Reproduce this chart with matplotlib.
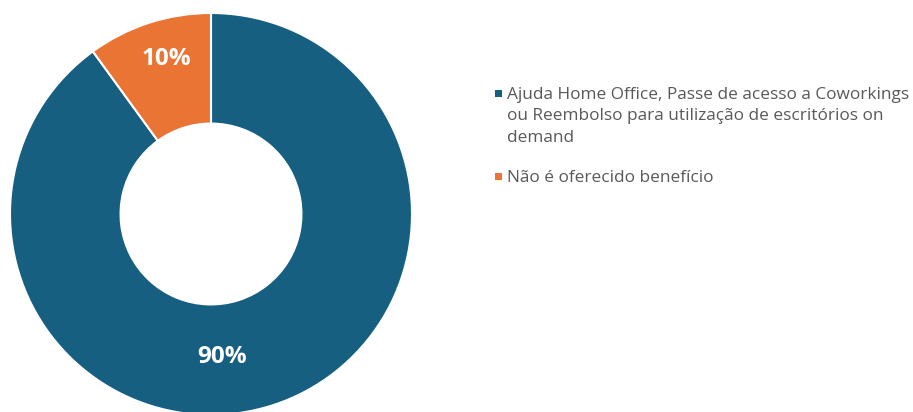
import matplotlib.pyplot as plt
from matplotlib.patches import Rectangle

plt.rcParams['font.family'] = ['Open Sans', 'DejaVu Sans']

categories = [
    ['Ajuda Home Office, Passe de acesso a Coworkings',
     'ou Reembolso para utilização de escritórios on',
     'demand'],
    ['Não é oferecido benefício'],
]
shares = [90, 10]
colors = ['#165f81', '#e97434']

W, H = 913, 412
fig = plt.figure(figsize=(W / 100, H / 100), dpi=100)

# donut: centre (211, 214) px from top-left, outer radius 201 px
cx, cy, r = 211, 214, 201
ax = fig.add_axes([(cx - r) / W, (H - cy - r) / H, 2 * r / W, 2 * r / H])
wedges, _ = ax.pie(shares, colors=colors, startangle=90, counterclock=False,
                   radius=1, wedgeprops=dict(width=0.55, edgecolor='white', linewidth=1.5))
ax.set_xlim(-1, 1)
ax.set_ylim(-1, 1)
ax.set_aspect('equal')
ax.axis('off')

# percentage labels (baseline positions)
label_pos = [(0.055, -0.741), (-0.224, 0.741)]
for v, (x, y) in zip(shares, label_pos):
    ax.text(x, y, f'{v}%', ha='center', va='baseline', color='white',
            fontsize=17.5, fontweight='bold')

# legend drawn by hand: square marker aligned with the first line
def px(x, y):
    return x / W, 1 - y / H

baseline = [99, 182]
line_step = 21.5
for lines, c, b in zip(categories, colors, baseline):
    mx, my = px(495, b - 2)
    fig.patches.append(Rectangle((mx, my), 7 / W, 7 / H, facecolor=c,
                                 edgecolor='none', transform=fig.transFigure))
    for i, line in enumerate(lines):
        tx, ty = px(507, b + i * line_step)
        fig.text(tx, ty, line, ha='left', va='baseline', fontsize=12.4,
                 color='#595959')

fig.savefig('out.png', dpi=100)
